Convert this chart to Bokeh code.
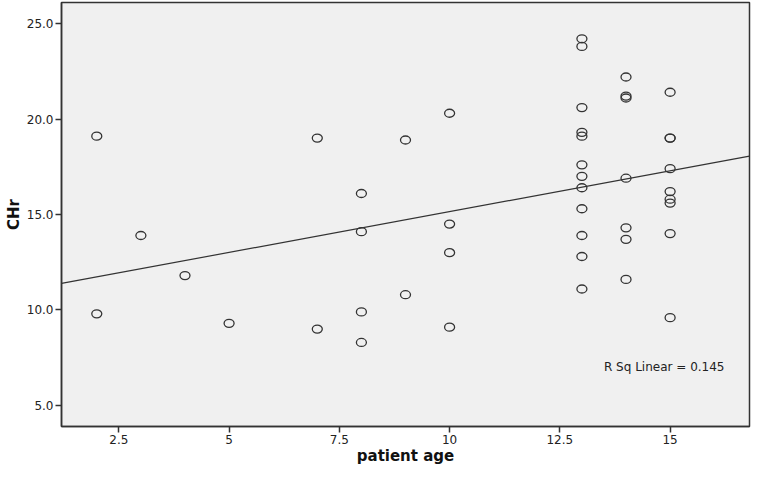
import numpy as np
from bokeh.plotting import figure
from bokeh.models import FixedTicker, NumeralTickFormatter, Label, Range1d, ColumnDataSource
from bokeh.embed import file_html
from bokeh.resources import INLINE

# ---- data ----
age = [2, 2, 3, 4, 5, 7, 7, 8, 8, 8, 8, 9, 9, 10, 10, 10, 10,
       13, 13, 13, 13, 13, 13, 13, 13, 13, 13, 13, 13,
       14, 14, 14, 14, 14, 14, 14,
       15, 15, 15, 15, 15, 15, 15, 15, 15]
chr_values = [19.1, 9.8, 13.9, 11.8, 9.3, 19.0, 9.0, 16.1, 14.1, 9.9, 8.3, 18.9, 10.8,
              20.3, 14.5, 13.0, 9.1,
              24.2, 23.8, 20.6, 19.3, 19.1, 17.6, 17.0, 16.4, 15.3, 13.9, 12.8, 11.1,
              22.2, 21.2, 21.1, 16.9, 14.3, 13.7, 11.6,
              21.4, 19.0, 19.0, 17.4, 16.2, 15.8, 15.6, 14.0, 9.6]
x_ticks = [2.5, 5, 7.5, 10, 12.5, 15]
x_tick_labels = ["2.5", "5", "7.5", "10", "12.5", "15"]
y_ticks = [5, 10, 15, 20, 25]
r_sq_linear = 0.145

x_lo, x_hi = 1.2, 16.8
y_lo, y_hi = 3.9, 26.1

FONT = "DejaVu Sans"
DARK = "#333333"

p = figure(width=751, height=467, output_backend="svg", toolbar_location=None,
           x_range=Range1d(x_lo, x_hi), y_range=Range1d(y_lo, y_hi),
           min_border_left=61, min_border_right=2, min_border_top=2, min_border_bottom=40)

p.background_fill_color = "#f0f0f0"
p.border_fill_color = "white"
p.outline_line_color = DARK
p.outline_line_width = 1.5
p.xgrid.visible = False
p.ygrid.visible = False

# points
src = ColumnDataSource(dict(x=age, y=chr_values))
p.ellipse(x="x", y="y", width=10, height=8, width_units="screen", height_units="screen",
          source=src, fill_color=None, line_color=DARK, line_width=1.3)

# linear fit
slope, intercept = np.polyfit(np.array(age, float), np.array(chr_values, float), 1)
fx = [x_lo, x_hi]
fy = [intercept + slope * v for v in fx]
p.line(fx, fy, line_color=DARK, line_width=1.2)

# R sq label
p.add_layout(Label(x=13.5, y=7.0, text=f"R Sq Linear = {r_sq_linear:.3f}",
                   text_font=FONT, text_font_size="12px", text_color="#222222",
                   text_baseline="middle", text_align="left"))

# axes
for ax in (p.xaxis[0], p.yaxis[0]):
    ax.axis_line_color = DARK
    ax.axis_line_width = 1.5
    ax.major_tick_line_color = DARK
    ax.major_tick_line_width = 1.5
    ax.major_tick_out = 6
    ax.major_tick_in = 0
    ax.minor_tick_line_color = None
    ax.major_label_text_font = FONT
    ax.major_label_text_font_size = "12px"
    ax.major_label_text_color = "#222222"
    ax.axis_label_text_font = FONT
    ax.axis_label_text_font_size = "15px"
    ax.axis_label_text_font_style = "bold"
    ax.axis_label_text_color = "#111111"

p.xaxis.ticker = FixedTicker(ticks=x_ticks)
p.xaxis.major_label_overrides = {t: l for t, l in zip(x_ticks, x_tick_labels)}
p.xaxis.axis_label = "patient age"
p.xaxis.major_label_standoff = 2
p.xaxis.axis_label_standoff = 0

p.yaxis.ticker = FixedTicker(ticks=y_ticks)
p.yaxis.formatter = NumeralTickFormatter(format="0.0")
p.yaxis.axis_label = "CHr"
p.yaxis.major_label_standoff = 2
p.yaxis.axis_label_standoff = 1

open("out.html", "w").write(file_html(p, INLINE))
